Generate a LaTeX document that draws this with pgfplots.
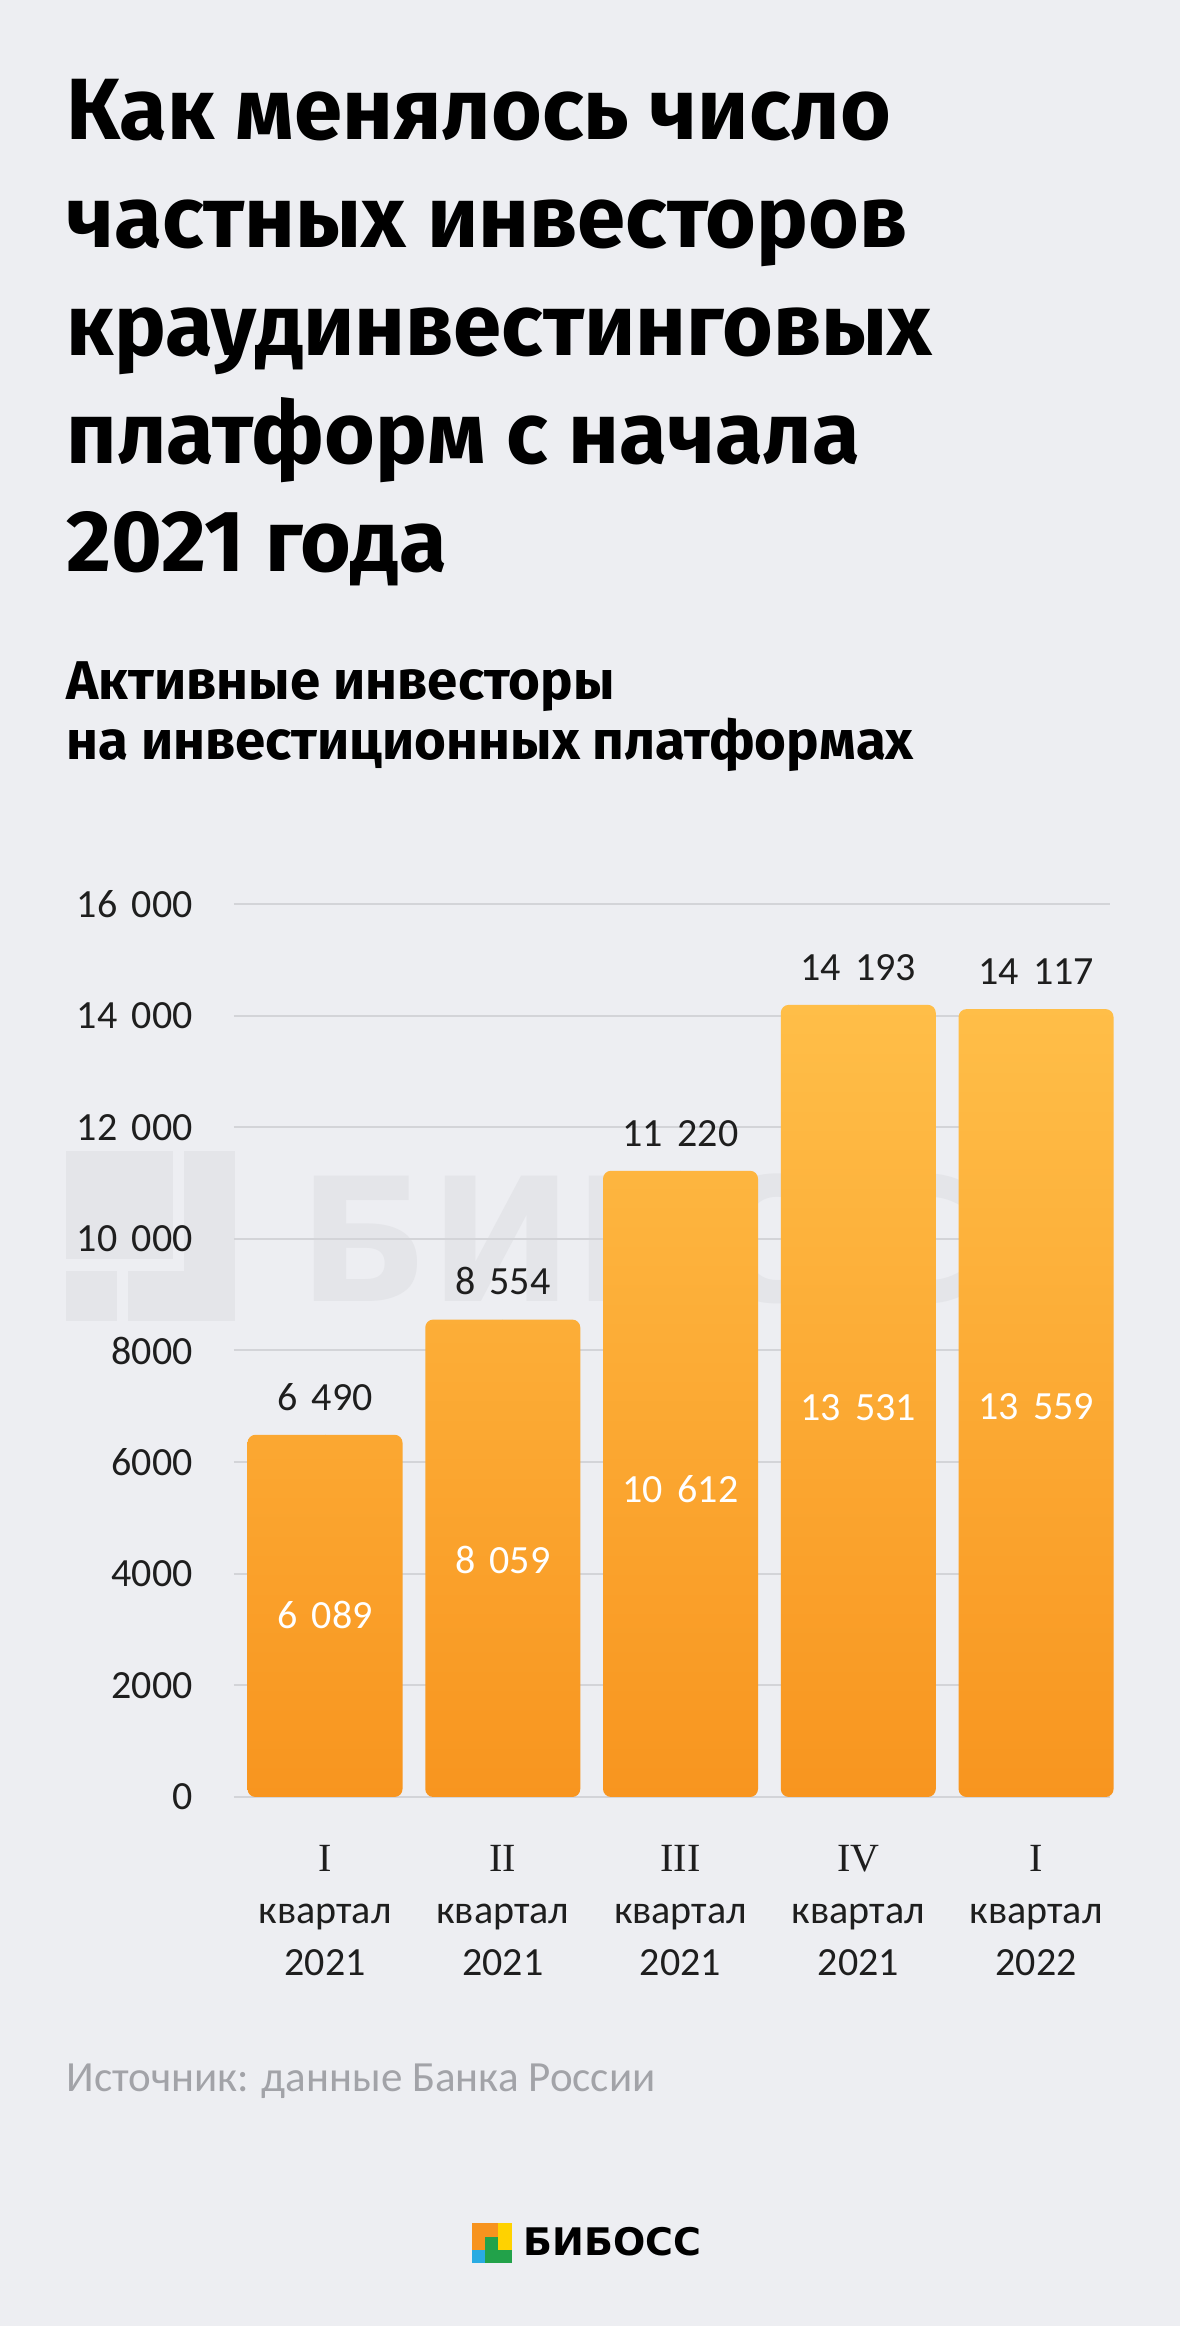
\documentclass[border=0pt]{standalone}
\usepackage{fontspec}
\setmainfont{Carlito}
\newfontfamily\firasans{Fira Sans}
\newfontfamily\dejavu{DejaVu Sans}
\newfontfamily\romfont{Liberation Serif}
\usepackage{pgfplots}
\pgfplotsset{compat=1.18}
\usepackage{pgfplotstable}

\definecolor{bg}{HTML}{EDEEF2}
\definecolor{wm}{HTML}{E4E5E9}
\definecolor{gridc}{HTML}{D3D4D8}
\definecolor{bartop}{HTML}{FFBE48}
\definecolor{barbot}{HTML}{F8951F}
\definecolor{valtxt}{HTML}{1E1E1E}
\definecolor{srcgray}{HTML}{A2A3A8}
\definecolor{lgorange}{HTML}{F7931E}
\definecolor{lgyellow}{HTML}{FFD200}
\definecolor{lgblue}{HTML}{29ABE2}
\definecolor{lggreen}{HTML}{22A24A}

% quarter, all active investors (label above bar), inner value (label in bar)
\pgfplotstableread{
x top inner
0 6490 6089
1 8554 8059
2 11220 10612
3 14193 13531
4 14117 13559
}\invdata

\newcommand\rn[1]{{\romfont #1}}
\newcommand\ths{\hspace{0.36em}}

\pgfplotsset{
  valuelabels/.style={
    only marks, mark=*, mark size=0pt, mark options={draw=none, fill=none},
    scatter/use mapped color={draw=none, fill=none},
    point meta=explicit, nodes near coords,
    every node near coord/.append style={inner sep=0pt,
      font=\fontsize{20}{24}\selectfont,
      /pgf/number format/fixed, /pgf/number format/precision=0,
      /pgf/number format/1000 sep={\ths}, /pgf/number format/assume math mode=true}},
}

\begin{document}
\begin{tikzpicture}[x=1pt,y=1pt]
\fill[bg] (0,0) rectangle (590,1163);

% faint logo watermark behind the chart
\fill[wm] (33,533.5) rectangle (86.5,587.5);
\fill[wm] (92,527.5) rectangle (117.5,587.5);
\fill[wm] (33,502.3) rectangle (58.5,527.5);
\fill[wm] (64,502.3) rectangle (117.5,527.5);
\node[anchor=base west, inner sep=0pt, text=wm, font=\dejavu\bfseries\fontsize{86}{86}\selectfont] at (149,512) {БИБОСС};

% title
\begin{scope}[every node/.style={anchor=base west, inner sep=0pt, text=black, font=\firasans\bfseries\fontsize{43.5}{54}\selectfont}]
\node at (33,1093) {Как менялось число};
\node at (33,1039) {частных инвесторов};
\node at (33,985) {краудинвестинговых};
\node at (33,931) {платформ с начала};
\node at (33,877) {2021 года};
\end{scope}
\begin{scope}[every node/.style={anchor=base west, inner sep=0pt, text=black, font=\firasans\bfseries\fontsize{27.3}{30}\selectfont}]
\node at (33,813) {Активные инвесторы};
\node at (33,783) {на инвестиционных платформах};
\end{scope}

\begin{axis}[
  at={(117pt,264.5pt)}, anchor=south west,
  scale only axis, width=438pt, height=446.5pt,
  xmin=-0.512, xmax=4.416, ymin=0, ymax=16000,
  axis line style={draw=none},
  major tick length=0pt,
  scaled y ticks=false,
  ymajorgrids, grid style={draw=gridc, line width=1pt},
  ytick={0,2000,4000,6000,8000,10000,12000,14000,16000},
  yticklabels={0,2000,4000,6000,8000,10\ths000,12\ths000,14\ths000,16\ths000},
  yticklabel style={anchor=east, inner sep=0pt, xshift=-20.5pt, text=valtxt, font=\fontsize{20}{24}\selectfont},
  xtick=data,
  xticklabels={{\rn{I}\\квартал\\2021},{\rn{II}\\квартал\\2021},{\rn{III}\\квартал\\2021},{\rn{IV}\\квартал\\2021},{\rn{I}\\квартал\\2022}},
  xticklabel style={anchor=north, align=center, inner sep=0pt, yshift=-24pt, text=valtxt, font=\fontsize{20}{26}\selectfont},
  clip=false,
]
\addplot[ybar, bar width=77.5pt, draw=none, top color=bartop, bottom color=barbot, rounded corners=4pt]
  table[x=x, y=top] {\invdata};
\addplot[valuelabels,
  every node near coord/.append style={anchor=south, yshift=12pt, text=valtxt}]
  table[x=x, y=top, meta=top] {\invdata};
\addplot[valuelabels,
  every node near coord/.append style={anchor=center, yshift=6pt, text=white}]
  table[x=x, y expr=\thisrow{inner}/2, meta=inner] {\invdata};
\end{axis}

% source
\node[anchor=base west, inner sep=0pt, text=srcgray, font=\fontsize{21.5}{25}\selectfont] at (33,117) {Источник: данные Банка России};

% logo
\fill[lgorange] (236,38) rectangle (249.2,51.35);
\fill[lgyellow] (249.2,38) rectangle (255.8,51.35);
\fill[lggreen] (242.5,31.65) rectangle (249.2,44.65);
\fill[lggreen] (249.2,31.65) rectangle (255.8,38);
\fill[lgblue] (236,31.65) rectangle (242.5,38);
\node[anchor=base west, inner sep=0pt, text=black, font=\dejavu\bfseries\fontsize{19}{20}\selectfont] at (261.7,35) {БИБОСС};

\pgfresetboundingbox
\useasboundingbox (0,0) rectangle (590,1163);
\end{tikzpicture}
\end{document}
